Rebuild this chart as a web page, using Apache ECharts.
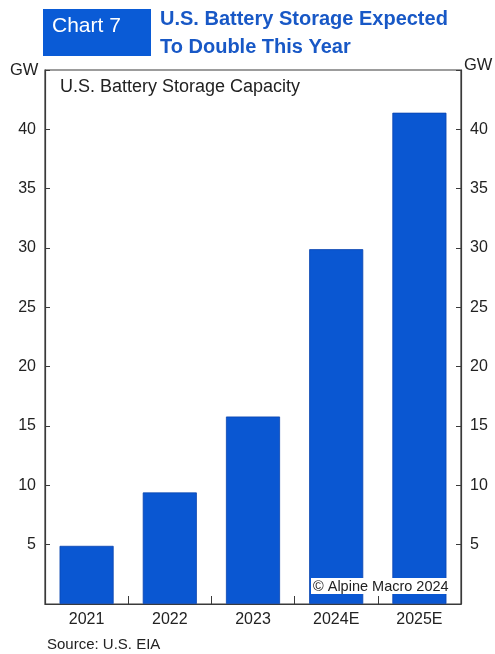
<!DOCTYPE html>
<html>
<head>
<meta charset="utf-8">
<script src="https://cdn.jsdelivr.net/npm/echarts@6/dist/echarts.min.js"></script>
<style>
  html, body { margin: 0; padding: 0; background: #ffffff; }
  #chart { width: 495px; height: 654px; }
</style>
</head>
<body>
<div id="chart"></div>
<script>
// U.S. battery storage capacity, GW
const categories = ['2021', '2022', '2023', '2024E', '2025E'];
const capacityGW = [4.9, 9.4, 15.8, 29.9, 41.4];
const yTicks = [5, 10, 15, 20, 25, 30, 35, 40];

const barBlue = '#0a57d2';
const titleBlue = '#1858c6';
const axisColor = '#3a3a3a';
const textColor = '#222222';
const baseFont = '"Liberation Sans", Arial, sans-serif';

const chart = echarts.init(document.getElementById('chart'), null, { renderer: 'canvas' });

const tickLabel = v => (yTicks.indexOf(v) >= 0 ? String(v) : '');

const valueAxis = (position, margin) => ({
  type: 'value',
  position: position,
  min: 0,
  max: 45,
  interval: 5,
  axisLine: { show: true, lineStyle: { color: axisColor, width: 1.2 } },
  axisTick: { show: true, inside: true, length: 5, lineStyle: { color: axisColor } },
  axisLabel: {
    formatter: tickLabel,
    color: textColor,
    fontSize: 16,
    fontFamily: 'Liberation Sans, Arial, sans-serif',
    margin: margin
  },
  splitLine: { show: false }
});

chart.setOption({
  animation: false,
  backgroundColor: '#ffffff',
  grid: {
    left: 45, right: 34, top: 70, bottom: 50,
    show: true, borderColor: axisColor, borderWidth: 1.2, backgroundColor: 'transparent'
  },
  xAxis: {
    type: 'category',
    data: categories,
    axisLine: { show: true, lineStyle: { color: axisColor, width: 1.2 } },
    axisTick: { show: true, inside: true, length: 8, lineStyle: { color: axisColor } },
    axisLabel: {
      color: textColor,
      fontSize: 16,
      fontFamily: 'Liberation Sans, Arial, sans-serif',
      margin: 8
    }
  },
  yAxis: [valueAxis('left', 9), valueAxis('right', 9)],
  series: [{
    type: 'bar',
    data: capacityGW,
    barWidth: '65%',
    itemStyle: { color: barBlue, borderColor: '#0a45b0', borderWidth: 0.8 }
  }],
  graphic: [
    {
      type: 'rect', left: 43, top: 9,
      shape: { width: 108, height: 47 },
      style: { fill: '#0a5bd6' }
    },
    {
      type: 'text', left: 52, top: 16,
      style: { text: 'Chart 7', fill: '#ffffff', font: '21px ' + baseFont }
    },
    {
      type: 'text', left: 160, top: 5,
      style: {
        text: 'U.S. Battery Storage Expected\nTo Double This Year',
        fill: titleBlue,
        font: 'bold 20px "Liberation Sans Narrow", "Liberation Sans", Arial, sans-serif',
        lineHeight: 28
      }
    },
    {
      type: 'text', left: 10, top: 62,
      style: { text: 'GW', fill: textColor, font: '16.5px ' + baseFont }
    },
    {
      type: 'text', left: 464, top: 57,
      style: { text: 'GW', fill: textColor, font: '16.5px ' + baseFont }
    },
    {
      type: 'text', left: 60, top: 78,
      style: { text: 'U.S. Battery Storage Capacity', fill: textColor, font: '18px ' + baseFont }
    },
    {
      type: 'text', left: 311, top: 578,
      z: 100,
      style: {
        text: '© Alpine Macro 2024', fill: textColor,
        font: '14.5px ' + baseFont,
        backgroundColor: '#ffffff', padding: [1, 2, 0, 2]
      }
    },
    {
      type: 'text', left: 47, top: 637,
      style: { text: 'Source: U.S. EIA', fill: textColor, font: '15px ' + baseFont }
    }
  ]
});
</script>
</body>
</html>
